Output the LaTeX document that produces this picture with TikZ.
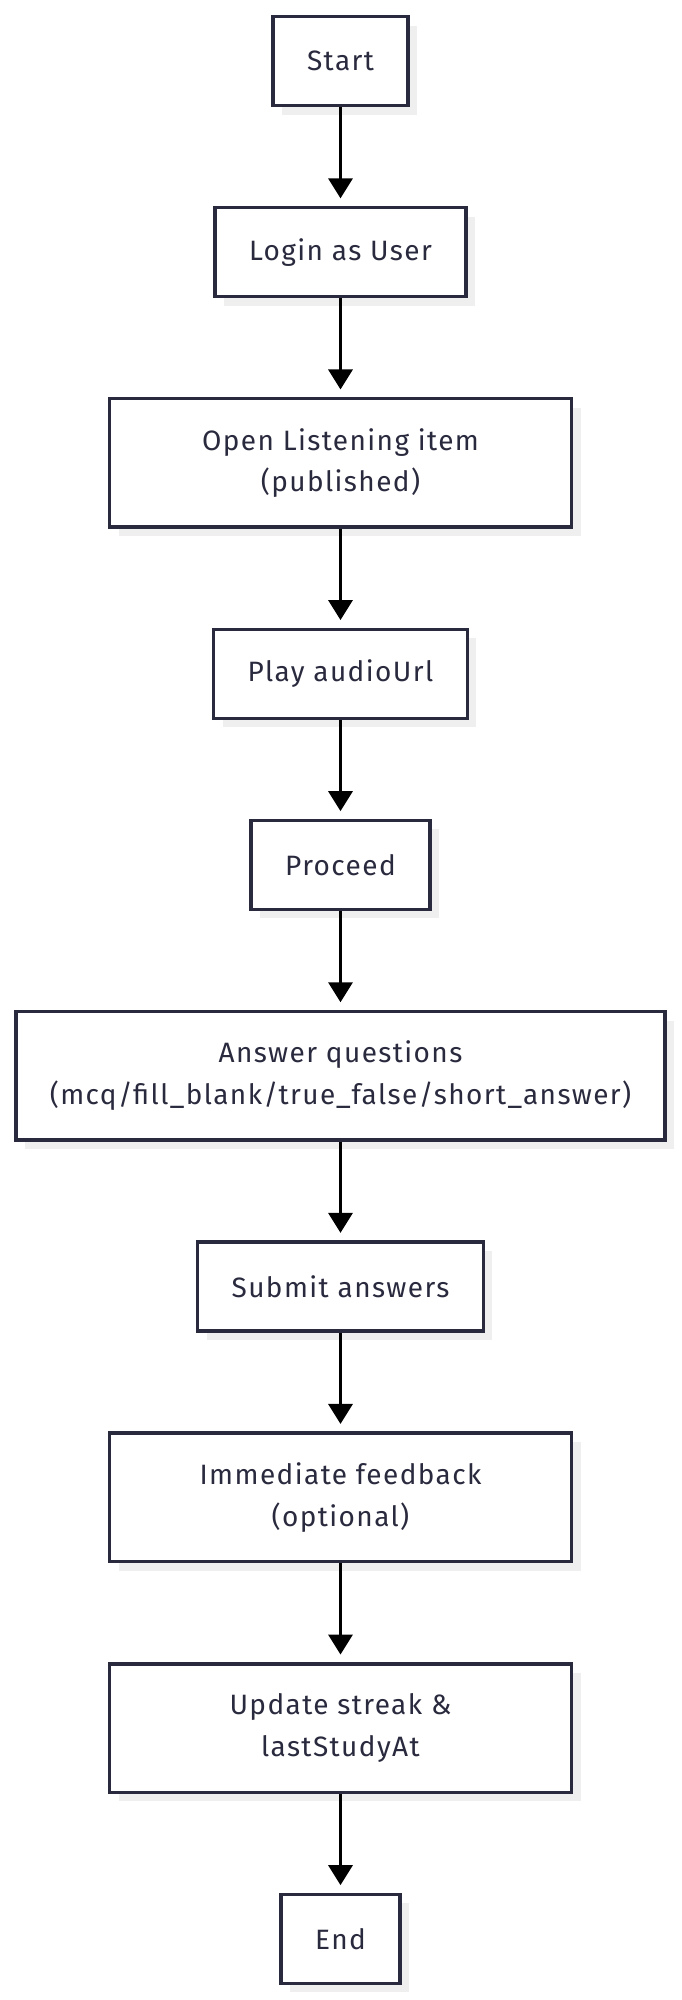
\documentclass[tikz,border=0pt]{standalone}
\usepackage{fontspec}
\setsansfont{Fira Sans}[LetterSpace=5]
\usepackage{xcolor}
\usepackage{tikz}
\usetikzlibrary{positioning,arrows.meta,shadows}
\definecolor{boxline}{HTML}{2A2A3F}
\definecolor{boxtext}{HTML}{2A2A3F}
\definecolor{boxshade}{HTML}{EFEFEF}

\begin{document}
\begin{tikzpicture}[x=1pt,y=1pt,->,>={Triangle[width=24pt,length=20pt]},shorten >=7.5pt,
            node distance=98.6pt,
            main node/.style={rectangle,draw=boxline,line width=3.5pt,fill=white,text=boxtext,
              font=\sffamily\fontsize{28}{41.5}\selectfont,align=center,inner xsep=34pt,
              minimum height=89pt,
              drop shadow={shadow xshift=9pt,shadow yshift=-9pt,fill=boxshade,opacity=1}},
            wide node/.style={main node,minimum width=462pt,minimum height=128.5pt}]

            \useasboundingbox (0,0) rectangle (681,-2000);

            \node[main node] (start) at (340.5,-61) {Start};
            \node[main node] (login) [below=of start] {Login as User};
            \node[wide node] (open) [below=of login] {Open Listening item\\(published)};
            \node[main node] (play) [below=of open] {Play audioUrl};
            \node[main node] (proceed) [below=of play] {Proceed};
            \node[wide node] (answer) [below=of proceed]
            {Answer questions\\(mcq/fill\_blank/true\_false/short\_answer)};
            \node[main node] (submit) [below=of answer] {Submit answers};
            \node[wide node] (feedback) [below=of submit] {Immediate feedback\\(optional)};
            \node[wide node] (streak) [below=of feedback] {Update streak \&\\lastStudyAt};
            \node[main node] (finish) [below=of streak] {End};

            \path[every edge/.style={draw=black,line width=3.3pt}]
            (start) edge (login)
            (login) edge (open)
            (open) edge (play)
            (play) edge (proceed)
            (proceed) edge (answer)
            (answer) edge (submit)
            (submit) edge (feedback)
            (feedback) edge (streak)
            (streak) edge (finish);
          \end{tikzpicture}
\end{document}
